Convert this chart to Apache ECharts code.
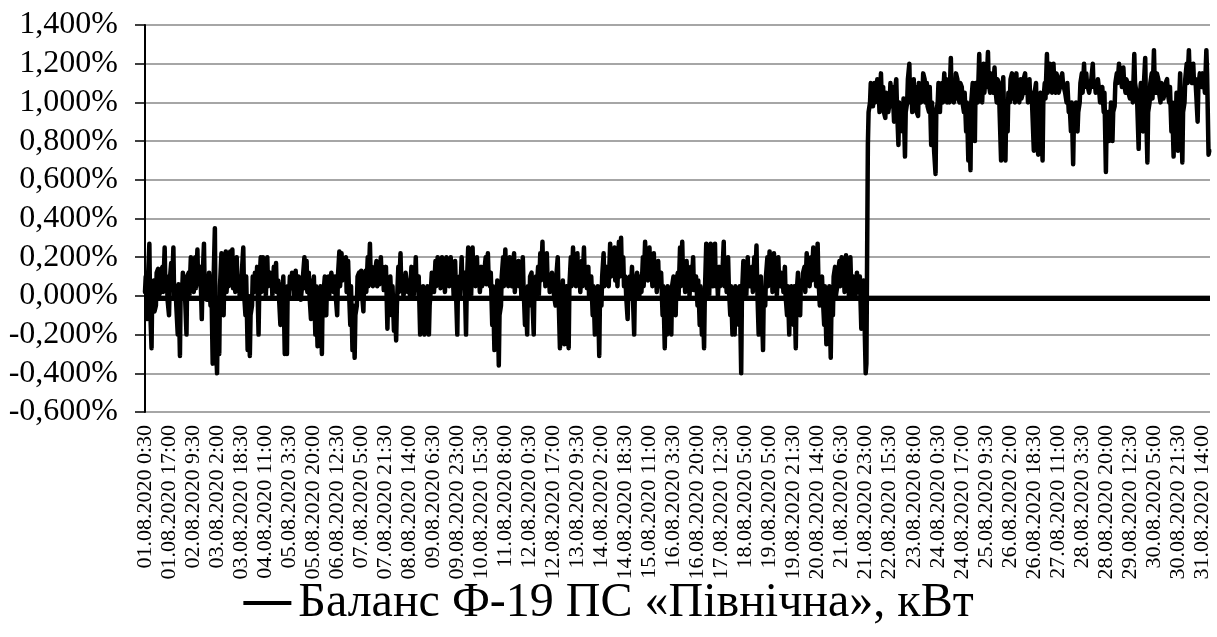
<!DOCTYPE html>
<html>
<head>
<meta charset="utf-8">
<script src="https://cdn.jsdelivr.net/npm/echarts@6/dist/echarts.min.js"></script>
<style>
html, body { margin: 0; padding: 0; background: #fff; }
#main { width: 1217px; height: 637px; }
</style>
</head>
<body>
<div id="main"></div>
<script>
var seriesName = 'Баланс Ф-19 ПС «Північна», кВт';

// balance, %, every 3rd half-hour (1.5 h)
var balance = [
  0.02, -0.12, 0.27, -0.27, 0.08, -0.05, 0.14, 0.02, 0.15, 0.25, 0.1, -0.1, 0.17, 0.25, 0.05, -0.2,
  -0.31, 0.02, 0.13, -0.2, 0.12, 0.2, 0.1, 0.2, 0.24, 0.05, -0.12, 0.27, 0.1, 0.05, -0.05, -0.35,
  0.35, -0.4, -0.3, 0.22, -0.1, 0.23, 0.15, 0.23, 0.24, 0.15, 0.2, 0.1, 0.05, 0.25, -0.1, -0.28,
  -0.31, -0.05, 0.02, 0.05, -0.2, 0.2, 0.2, 0.1, 0.2, 0.05, 0.1, 0.15, 0.17, 0.08, -0.15, 0.03,
  -0.3, -0.3, 0.0, 0.04, 0.1, 0.13, 0.0, 0.08, -0.03, 0.2, 0.18, 0.12, -0.12, 0.05, -0.2, -0.26,
  -0.18, -0.3, 0.05, -0.1, 0.1, 0.08, 0.12, 0.1, -0.1, 0.23, 0.22, 0.08, 0.2, 0.18, -0.15, -0.28,
  -0.32, -0.05, 0.12, 0.13, -0.08, 0.13, 0.2, 0.27, 0.15, 0.08, 0.18, 0.12, 0.2, 0.15, 0.08, -0.17,
  0.05, -0.1, -0.18, -0.23, 0.15, 0.22, 0.1, 0.05, 0.12, 0.08, 0.15, 0.1, 0.2, 0.05, -0.2, -0.15,
  -0.2, -0.12, -0.2, 0.05, 0.1, 0.18, 0.2, 0.15, 0.2, 0.12, 0.2, 0.18, 0.2, 0.1, 0.18, -0.2,
  0.1, 0.2, 0.05, -0.2, 0.25, 0.1, 0.25, 0.15, 0.2, 0.1, 0.15, 0.08, 0.2, 0.22, 0.05, -0.15,
  -0.28, -0.1, -0.36, -0.05, 0.2, 0.24, 0.15, 0.2, 0.05, 0.22, 0.15, 0.18, 0.1, 0.2, -0.15, -0.2,
  -0.05, 0.12, -0.2, 0.1, 0.15, 0.22, 0.28, 0.2, 0.22, 0.1, 0.03, 0.12, -0.05, 0.2, -0.27, -0.1,
  -0.25, 0.05, -0.27, 0.2, 0.25, 0.15, 0.22, 0.1, 0.18, 0.25, 0.12, 0.15, 0.05, -0.1, -0.2, -0.15,
  -0.31, -0.05, 0.22, 0.08, 0.15, 0.27, 0.1, 0.25, 0.15, 0.28, 0.3, 0.2, 0.1, -0.12, 0.1, 0.15,
  -0.2, 0.05, 0.12, 0.1, 0.2, 0.28, 0.2, 0.25, 0.15, 0.22, 0.12, 0.18, 0.05, -0.1, -0.27, -0.2,
  0.05, -0.2, 0.1, -0.1, 0.12, 0.25, 0.28, 0.12, 0.18, 0.08, 0.15, 0.2, 0.05, -0.05, -0.15, -0.2,
  -0.27, 0.27, 0.1, 0.27, 0.05, 0.27, 0.1, 0.15, 0.05, 0.28, 0.15, 0.2, -0.1, -0.2, -0.2, 0.05,
  -0.15, -0.4, 0.18, 0.12, 0.2, 0.05, 0.15, 0.2, 0.26, -0.2, 0.1, -0.28, -0.05, 0.2, 0.23, 0.15,
  0.22, 0.1, 0.2, 0.05, 0.1, 0.15, -0.1, -0.2, 0.05, -0.15, -0.27, 0.12, -0.1, 0.05, 0.15, 0.22,
  0.12, 0.2, 0.25, 0.15, 0.27, -0.05, 0.1, -0.15, -0.25, -0.2, -0.32, -0.1, 0.15, 0.05, 0.18, 0.2,
  0.12, 0.21, 0.1, 0.2, 0.0, 0.08, 0.12, 0.05, -0.17, 0.08, -0.4, 0.78, 1.0, 1.08, 1.1, 1.02,
  1.05, 1.15, 1.08, 0.92, 1.05, 1.0, 0.98, 0.9, 1.12, 0.78, 1.0, 0.85, 0.72, 1.0, 1.2, 1.05,
  1.12, 1.08, 0.93, 1.1, 1.05, 1.12, 1.1, 0.95, 0.78, 0.9, 0.63, 1.0, 0.95, 1.1, 1.15, 1.12,
  1.1, 1.23, 1.1, 1.05, 1.12, 1.0, 1.08, 0.95, 0.85, 0.7, 0.65, 1.1, 0.8, 1.08, 1.25, 1.1,
  1.2, 1.15, 1.26, 1.05, 1.15, 1.18, 1.0, 1.1, 0.7, 1.13, 0.7, 0.85, 1.0, 1.15, 1.1, 1.15,
  1.08, 1.12, 1.05, 1.15, 1.1, 1.12, 1.05, 0.75, 1.1, 0.73, 1.05, 0.7, 1.1, 1.25, 1.1, 1.15,
  1.2, 1.05, 1.12, 1.08, 1.15, 1.1, 1.0, 0.95, 0.85, 0.68, 0.92, 0.85, 1.0, 1.15, 1.2, 1.15,
  1.1, 1.05, 1.2, 1.1, 1.08, 1.05, 1.0, 0.95, 0.64, 0.95, 0.9, 0.8, 0.98, 1.15, 1.2, 1.12,
  1.18, 1.05, 1.1, 1.02, 1.08, 1.25, 1.05, 0.76, 1.1, 0.85, 1.23, 0.69, 1.0, 1.15, 1.27, 1.05,
  1.12, 1.0, 1.1, 1.05, 1.12, 1.0, 0.85, 0.72, 0.9, 0.75, 1.15, 0.69, 1.0, 1.2, 1.27, 1.15,
  1.2, 1.12, 0.9, 1.15, 1.08, 1.1, 1.27, 0.73
];

// the other edge of the band inside each 1.5 h window, half an hour later
var balanceSwing = [
  0.1, 0.08, -0.05, 0.05, -0.08, 0.12, 0.0, 0.13, 0.02, 0.05, -0.02, 0.08, 0.03, 0.0, -0.05, 0.06,
  0.05, 0.12, 0.0, 0.1, 0.0, 0.05, 0.02, 0.04, 0.06, 0.15, 0.08, 0.03, -0.02, 0.12, 0.1, 0.05,
  -0.2, -0.1, 0.05, -0.05, 0.12, 0.02, 0.05, 0.1, 0.04, 0.02, 0.05, 0.0, 0.12, 0.02, 0.1, 0.0,
  -0.1, 0.1, 0.12, 0.15, 0.05, 0.02, 0.05, 0.0, 0.05, 0.12, 0.0, 0.03, 0.02, 0.0, 0.06, 0.1,
  0.0, 0.05, 0.1, 0.12, 0.0, 0.02, 0.1, -0.02, 0.1, 0.04, 0.02, 0.0, 0.08, 0.1, 0.05, -0.05,
  0.05, 0.0, 0.1, 0.08, 0.0, 0.12, 0.02, 0.0, 0.1, 0.05, 0.08, 0.15, 0.02, 0.05, 0.05, -0.05,
  -0.1, 0.1, 0.0, 0.02, 0.08, 0.02, 0.05, 0.1, 0.05, 0.12, 0.05, 0.06, 0.1, 0.03, 0.15, 0.0,
  0.1, 0.05, 0.0, -0.05, 0.02, 0.05, 0.0, 0.12, 0.02, 0.0, 0.05, 0.0, 0.03, 0.1, -0.05, 0.05,
  0.0, 0.05, -0.05, 0.12, 0.02, 0.05, 0.1, 0.04, 0.08, 0.02, 0.1, 0.05, 0.08, 0.0, 0.05, 0.08,
  0.0, 0.05, 0.12, 0.05, 0.08, 0.0, 0.1, 0.05, 0.08, 0.02, 0.05, 0.12, 0.06, 0.1, 0.12, 0.05,
  -0.05, 0.08, -0.1, 0.1, 0.05, 0.08, 0.05, 0.1, 0.12, 0.02, 0.06, 0.05, 0.0, 0.05, 0.0, 0.05,
  0.1, 0.0, 0.05, 0.02, 0.0, 0.08, 0.1, 0.05, 0.08, 0.02, 0.12, 0.0, 0.1, 0.02, 0.0, 0.08,
  0.0, -0.1, 0.05, 0.05, 0.1, 0.05, 0.08, 0.02, 0.05, 0.1, 0.04, 0.0, 0.1, 0.05, 0.0, 0.05,
  0.0, 0.1, 0.05, 0.15, 0.05, 0.1, 0.12, 0.08, 0.05, 0.1, 0.12, 0.05, 0.0, 0.06, 0.0, 0.02,
  0.05, 0.12, 0.0, 0.02, 0.05, 0.1, 0.08, 0.1, 0.05, 0.08, 0.02, 0.05, 0.12, 0.05, 0.0, 0.05,
  -0.05, 0.05, 0.0, 0.08, 0.0, 0.05, 0.1, 0.02, 0.06, 0.0, 0.05, 0.03, 0.1, 0.08, 0.05, 0.0,
  0.0, 0.05, 0.0, 0.08, 0.12, 0.05, 0.0, 0.05, 0.1, 0.05, 0.02, 0.05, 0.05, 0.0, 0.05, -0.1,
  0.05, 0.0, 0.05, 0.0, 0.08, 0.12, 0.02, 0.06, 0.05, 0.05, 0.0, 0.02, 0.1, 0.05, 0.08, 0.02,
  0.05, 0.0, 0.08, 0.12, 0.02, 0.0, 0.05, 0.0, -0.05, 0.05, 0.0, -0.05, 0.08, 0.12, 0.02, 0.08,
  0.05, 0.08, 0.1, 0.05, 0.1, 0.08, 0.0, 0.05, 0.0, 0.05, -0.05, 0.1, 0.0, 0.12, 0.05, 0.08,
  0.02, 0.05, 0.0, 0.06, 0.1, 0.0, 0.02, 0.1, 0.05, -0.05, -0.35, 0.95, 1.1, 0.98, 1.0, 1.12,
  0.95, 1.02, 0.95, 1.05, 0.95, 1.1, 1.08, 1.05, 0.98, 1.0, 0.9, 1.02, 0.95, 1.12, 1.0, 0.95,
  1.0, 0.95, 1.1, 1.0, 1.15, 1.0, 0.98, 1.08, 1.0, 0.75, 0.95, 1.1, 1.05, 1.0, 1.05, 1.0,
  1.0, 1.05, 1.0, 1.15, 1.02, 1.1, 1.0, 1.05, 1.0, 0.9, 1.0, 0.95, 1.1, 1.0, 1.05, 1.0,
  1.05, 1.08, 1.1, 1.15, 1.05, 1.08, 1.12, 0.95, 1.0, 0.95, 0.95, 1.05, 1.12, 1.02, 1.0, 1.05,
  1.0, 1.02, 1.12, 1.05, 1.0, 1.02, 0.95, 1.05, 0.9, 1.02, 0.95, 1.0, 1.02, 1.05, 1.2, 1.05,
  1.1, 1.15, 1.05, 1.12, 1.1, 1.05, 1.1, 1.0, 1.0, 0.9, 1.0, 0.95, 1.1, 1.05, 1.08, 1.1,
  1.05, 1.12, 1.08, 1.05, 1.12, 1.0, 1.08, 1.05, 0.9, 0.8, 1.0, 0.95, 1.1, 1.1, 1.15, 1.08,
  1.1, 1.12, 1.05, 1.1, 1.0, 1.1, 1.0, 1.0, 0.95, 1.08, 1.0, 0.95, 1.1, 1.02, 1.1, 1.15,
  1.05, 1.1, 1.02, 1.1, 1.05, 1.08, 1.0, 0.95, 1.05, 0.95, 1.0, 0.95, 1.12, 1.1, 1.15, 1.1,
  1.1, 1.05, 1.08, 1.1, 1.15, 1.05, 1.15, 0.75
];
var sampleStep = 3;          // half-hours between two readings
var categoryCount = 1464;    // half-hour slots on the axis
var labelEvery = 33;

// time slots: from 01.08.2020 0:30, 30 min apart; 15 slots missing on 18.08
var startMinutes = 30;
var gapFrom = 839;
var gapLen = 15;

var yMin = -0.6, yMax = 1.4, yStep = 0.2;
var zeroLevel = -0.012;

function slotLabel(i) {
  var s = i >= gapFrom ? i + gapLen : i;
  var m = startMinutes + s * 30;
  var day = Math.floor(m / 1440) + 1;
  var rem = m % 1440;
  var h = Math.floor(rem / 60), mm = rem % 60;
  return (day < 10 ? '0' : '') + day + '.08.2020 ' + h + ':' + (mm < 10 ? '0' : '') + mm;
}

var categories = [];
for (var i = 0; i < categoryCount; i++) categories.push(slotLabel(i));

var points = [];
balance.forEach(function (v, k) {
  points.push([k * sampleStep, v]);
  points.push([k * sampleStep + 1, balanceSwing[k]]);
});

var font = 'Liberation Serif, Times New Roman, serif';

var myChart = echarts.init(document.getElementById('main'));
var option = {
  animation: false,
  backgroundColor: '#fff',
  grid: { left: 145, right: 7, top: 25, bottom: 225 },
  legend: {
    data: [seriesName],
    top: 574,
    left: 'center',
    icon: 'rect',
    itemWidth: 48,
    itemHeight: 4,
    itemGap: 10,
    textStyle: { fontFamily: font, fontSize: 48, color: '#000', padding: [0, 0, 0, 2] }
  },
  xAxis: {
    type: 'category',
    data: categories,
    boundaryGap: false,
    axisLine: { show: false },
    axisTick: { show: false },
    axisLabel: {
      interval: labelEvery - 1,
      rotate: 90,
      margin: 13,
      fontFamily: font,
      fontSize: 22,
      color: '#000'
    }
  },
  yAxis: {
    type: 'value',
    min: yMin,
    max: yMax,
    interval: yStep,
    axisLine: { show: true, lineStyle: { color: '#000', width: 2 } },
    axisTick: { show: true, length: 10, lineStyle: { color: '#000', width: 1.5 } },
    splitLine: { lineStyle: { color: '#a6a6a6', width: 2 } },
    axisLabel: {
      margin: 27,
      fontFamily: font,
      fontSize: 32,
      color: '#000',
      formatter: function (v) { return v.toFixed(3).replace('.', ',') + '%'; }
    }
  },
  series: [{
    name: seriesName,
    type: 'line',
    data: points,
    symbol: 'none',
    lineStyle: { color: '#000', width: 4.5, join: 'round', cap: 'round' },
    itemStyle: { color: '#000' },
    markLine: {
      silent: true,
      symbol: ['none', 'none'],
      label: { show: false },
      lineStyle: { color: '#000', width: 5, type: 'solid' },
      data: [{ yAxis: zeroLevel }]
    }
  }]
};
myChart.setOption(option);
window.addEventListener('resize', function () { myChart.resize(); });
</script>
</body>
</html>
